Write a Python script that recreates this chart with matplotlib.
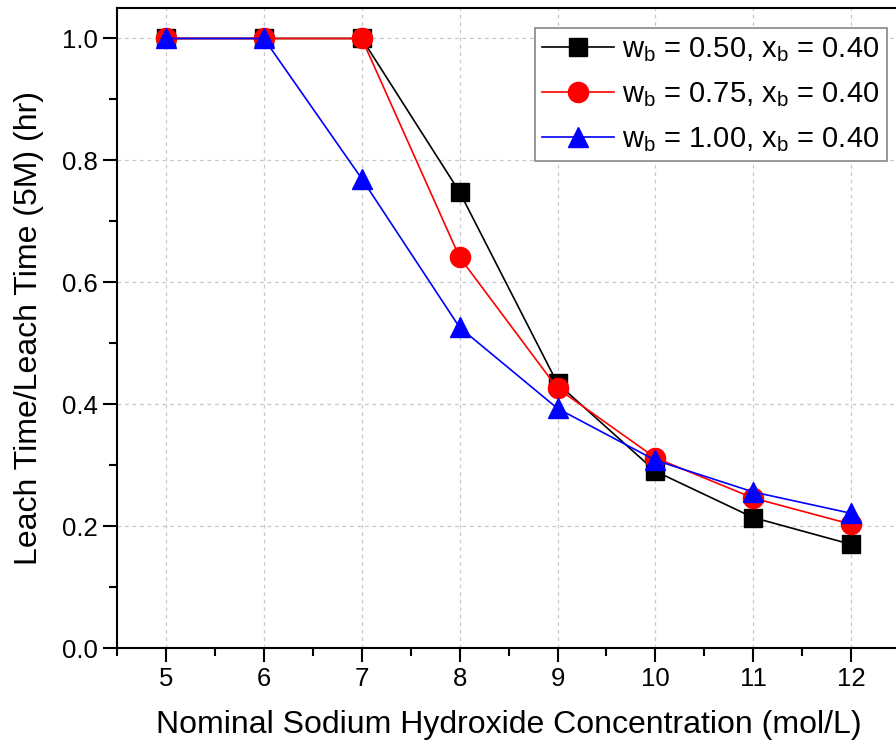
import numpy as np
import matplotlib
matplotlib.use('Agg')
import matplotlib.pyplot as plt
from matplotlib.ticker import MultipleLocator

plt.rcParams['font.family'] = ['Liberation Sans', 'DejaVu Sans']
plt.rcParams['mathtext.fontset'] = 'custom'
plt.rcParams['mathtext.rm'] = 'Liberation Sans'
plt.rcParams['mathtext.it'] = 'Liberation Sans'

# Daten
conc = [5, 6, 7, 8, 9, 10, 11, 12]
w050 = [1.0, 1.0, 1.0, 0.748, 0.434, 0.290, 0.214, 0.170]
w075 = [1.0, 1.0, 1.0, 0.641, 0.426, 0.312, 0.246, 0.203]
w100 = [1.0, 1.0, 0.770, 0.526, 0.393, 0.308, 0.256, 0.221]
labels = [r'w$_\mathregular{b}$ = 0.50, x$_\mathregular{b}$ = 0.40',
          r'w$_\mathregular{b}$ = 0.75, x$_\mathregular{b}$ = 0.40',
          r'w$_\mathregular{b}$ = 1.00, x$_\mathregular{b}$ = 0.40']
yticks = [0.0, 0.2, 0.4, 0.6, 0.8, 1.0]

fig = plt.figure(figsize=(8.96, 7.47), dpi=100)
ax = fig.add_axes([0.1306, 0.1325, 0.874, 0.8568])

ax.plot(conc, w050, '-s', color='black', lw=1.2, ms=13, label=labels[0])
ax.plot(conc, w075, '-o', color='red', lw=1.2, ms=14.5, label=labels[1])
ax.plot(conc, w100, '-^', color='blue', lw=1.2, ms=15, label=labels[2])

ax.set_xlim(4.5, 12.5)
ax.set_ylim(0, 1.05)
ax.xaxis.set_major_locator(MultipleLocator(1))
ax.xaxis.set_minor_locator(MultipleLocator(0.5))
ax.yaxis.set_minor_locator(MultipleLocator(0.1))
ax.set_yticks(yticks)
ax.set_yticklabels(['%.1f' % v for v in yticks])

ax.grid(True, which='major', ls=(0, (3, 3)), color='#c8c8c8', lw=0.9)
ax.set_axisbelow(True)
ax.tick_params(which='major', direction='out', length=10, width=1.5, labelsize=18.5, pad=4)
ax.tick_params(which='minor', direction='out', length=6, width=1.5)
for s in ax.spines.values():
    s.set_linewidth(1.5)

ax.set_xlabel('Nominal Sodium Hydroxide Concentration (mol/L)', fontsize=23, labelpad=13)
ax.set_ylabel('Leach Time/Leach Time (5M) (hr)', fontsize=23, labelpad=13)

leg = ax.legend(loc='upper right', bbox_to_anchor=(0.983, 0.969), fontsize=21,
                fancybox=False, edgecolor='#888888', framealpha=1,
                handlelength=2.45, handletextpad=0.3, borderpad=0.25,
                labelspacing=0.56, borderaxespad=0)
leg.get_frame().set_linewidth(1.2)

fig.savefig('out.png', dpi=100)
